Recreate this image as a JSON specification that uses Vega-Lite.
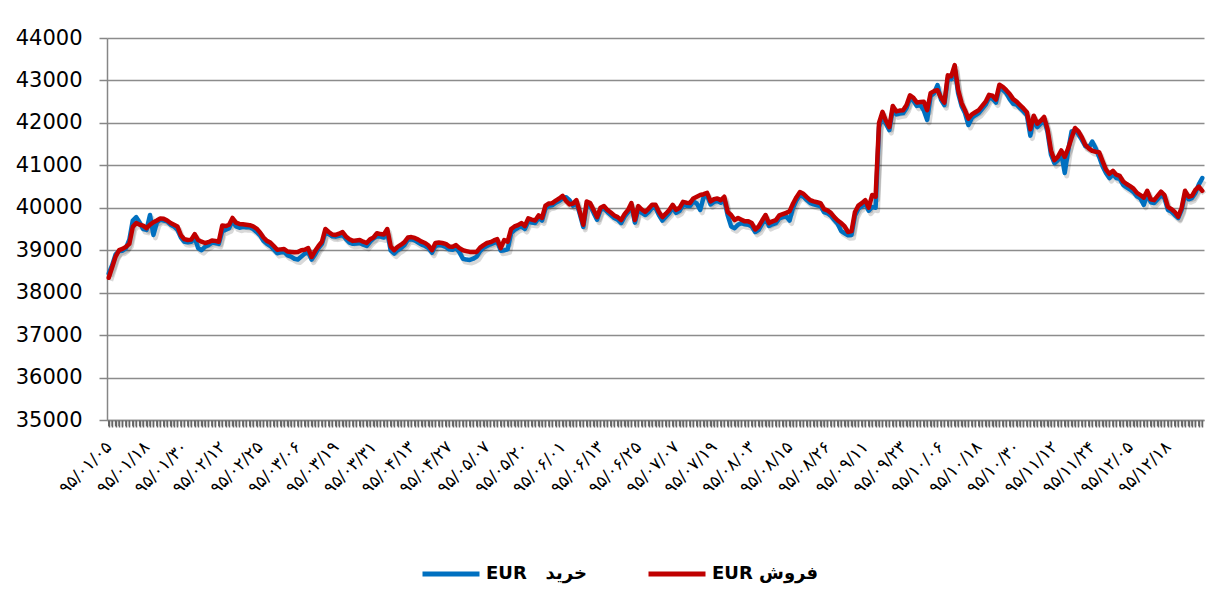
{
"$schema":"https://vega.github.io/schema/vega-lite/v6.json",
"width":1097,"height":382,
"autosize":"none",
"padding":{"left":107,"top":38,"right":21,"bottom":181},
"background":"white",
"data":{"values":[
{"d":"۹۵/۰۱/۰۵","b":38450,"s":38350},{"d":"1","b":38650,"s":38600},{"d":"2","b":38900,"s":38850},{"d":"3","b":38980,"s":39000},{"d":"4","b":38990,"s":39030},{"d":"5","b":39050,"s":39080},{"d":"6","b":39250,"s":39150},{"d":"7","b":39700,"s":39550},{"d":"8","b":39780,"s":39640},{"d":"9","b":39650,"s":39600},
{"d":"10","b":39500,"s":39580},{"d":"۹۵/۰۱/۱۸","b":39480,"s":39520},{"d":"12","b":39830,"s":39600},{"d":"13","b":39360,"s":39660},{"d":"14","b":39650,"s":39700},{"d":"15","b":39720,"s":39750},{"d":"16","b":39700,"s":39740},{"d":"17","b":39680,"s":39700},{"d":"18","b":39600,"s":39640},{"d":"19","b":39560,"s":39600},
{"d":"20","b":39480,"s":39560},{"d":"21","b":39300,"s":39350},{"d":"۹۵/۰۱/۳۰","b":39200,"s":39260},{"d":"23","b":39190,"s":39240},{"d":"24","b":39200,"s":39250},{"d":"25","b":39300,"s":39380},{"d":"26","b":39050,"s":39240},{"d":"27","b":39000,"s":39200},{"d":"28","b":39080,"s":39170},{"d":"29","b":39120,"s":39190},
{"d":"30","b":39180,"s":39230},{"d":"31","b":39170,"s":39220},{"d":"32","b":39150,"s":39200},{"d":"۹۵/۰۲/۱۲","b":39450,"s":39580},{"d":"34","b":39480,"s":39570},{"d":"35","b":39520,"s":39600},{"d":"36","b":39700,"s":39760},{"d":"37","b":39560,"s":39650},{"d":"38","b":39530,"s":39620},{"d":"39","b":39550,"s":39610},
{"d":"40","b":39540,"s":39600},{"d":"41","b":39540,"s":39590},{"d":"42","b":39500,"s":39560},{"d":"43","b":39430,"s":39510},{"d":"۹۵/۰۲/۲۵","b":39350,"s":39420},{"d":"45","b":39220,"s":39300},{"d":"46","b":39150,"s":39220},{"d":"47","b":39100,"s":39180},{"d":"48","b":39020,"s":39100},{"d":"49","b":38930,"s":39010},
{"d":"50","b":38950,"s":39020},{"d":"51","b":38960,"s":39030},{"d":"52","b":38880,"s":38970},{"d":"53","b":38850,"s":38960},{"d":"54","b":38800,"s":38950},{"d":"۹۵/۰۳/۰۶","b":38780,"s":38960},{"d":"56","b":38850,"s":39000},{"d":"57","b":38920,"s":39010},{"d":"58","b":38950,"s":39050},{"d":"59","b":38780,"s":38840},
{"d":"60","b":38900,"s":38980},{"d":"61","b":39050,"s":39100},{"d":"62","b":39150,"s":39200},{"d":"63","b":39420,"s":39500},{"d":"64","b":39380,"s":39430},{"d":"65","b":39330,"s":39370},{"d":"۹۵/۰۳/۱۹","b":39320,"s":39360},{"d":"67","b":39340,"s":39390},{"d":"68","b":39360,"s":39430},{"d":"69","b":39260,"s":39320},
{"d":"70","b":39180,"s":39260},{"d":"71","b":39150,"s":39220},{"d":"72","b":39160,"s":39230},{"d":"73","b":39170,"s":39240},{"d":"74","b":39130,"s":39200},{"d":"75","b":39100,"s":39170},{"d":"76","b":39200,"s":39260},{"d":"۹۵/۰۳/۳۱","b":39280,"s":39300},{"d":"78","b":39330,"s":39400},{"d":"79","b":39320,"s":39380},
{"d":"80","b":39300,"s":39370},{"d":"81","b":39420,"s":39500},{"d":"82","b":38990,"s":39090},{"d":"83","b":38920,"s":39000},{"d":"84","b":39000,"s":39080},{"d":"85","b":39050,"s":39130},{"d":"86","b":39120,"s":39190},{"d":"87","b":39250,"s":39300},{"d":"۹۵/۰۴/۱۳","b":39260,"s":39310},{"d":"89","b":39230,"s":39290},
{"d":"90","b":39180,"s":39250},{"d":"91","b":39130,"s":39200},{"d":"92","b":39100,"s":39170},{"d":"93","b":39050,"s":39110},{"d":"94","b":38940,"s":39000},{"d":"95","b":39100,"s":39170},{"d":"96","b":39120,"s":39180},{"d":"97","b":39110,"s":39170},{"d":"98","b":39080,"s":39150},{"d":"۹۵/۰۴/۲۷","b":39020,"s":39090},
{"d":"100","b":39010,"s":39080},{"d":"101","b":39050,"s":39120},{"d":"102","b":38950,"s":39050},{"d":"103","b":38800,"s":39000},{"d":"104","b":38780,"s":38980},{"d":"105","b":38770,"s":38960},{"d":"106","b":38800,"s":38960},{"d":"107","b":38850,"s":38960},{"d":"108","b":38980,"s":39060},{"d":"109","b":39060,"s":39120},
{"d":"۹۵/۰۵/۰۷","b":39100,"s":39170},{"d":"111","b":39140,"s":39190},{"d":"112","b":39170,"s":39230},{"d":"113","b":39200,"s":39260},{"d":"114","b":38990,"s":39050},{"d":"115","b":39000,"s":39240},{"d":"116","b":39020,"s":39200},{"d":"117","b":39400,"s":39500},{"d":"118","b":39480,"s":39560},{"d":"119","b":39530,"s":39590},
{"d":"120","b":39560,"s":39640},{"d":"۹۵/۰۵/۲۰","b":39500,"s":39570},{"d":"122","b":39680,"s":39750},{"d":"123","b":39650,"s":39720},{"d":"124","b":39640,"s":39700},{"d":"125","b":39760,"s":39820},{"d":"126","b":39700,"s":39760},{"d":"127","b":39980,"s":40050},{"d":"128","b":40050,"s":40100},{"d":"129","b":40060,"s":40110},
{"d":"130","b":40120,"s":40170},{"d":"131","b":40160,"s":40220},{"d":"۹۵/۰۶/۰۱","b":40220,"s":40280},{"d":"133","b":40250,"s":40160},{"d":"134","b":40180,"s":40080},{"d":"135","b":40050,"s":40100},{"d":"136","b":40120,"s":40180},{"d":"137","b":39850,"s":39900},{"d":"138","b":39550,"s":39600},{"d":"139","b":40080,"s":40150},
{"d":"140","b":40050,"s":40110},{"d":"141","b":39880,"s":39950},{"d":"142","b":39720,"s":39780},{"d":"۹۵/۰۶/۱۳","b":39950,"s":40000},{"d":"144","b":39980,"s":40040},{"d":"145","b":39900,"s":39950},{"d":"146","b":39830,"s":39890},{"d":"147","b":39760,"s":39820},{"d":"148","b":39720,"s":39780},{"d":"149","b":39640,"s":39710},
{"d":"150","b":39790,"s":39850},{"d":"151","b":39890,"s":39950},{"d":"152","b":40050,"s":40110},{"d":"153","b":39650,"s":39710},{"d":"۹۵/۰۶/۲۵","b":39960,"s":40040},{"d":"155","b":39880,"s":39960},{"d":"156","b":39830,"s":39900},{"d":"157","b":39900,"s":39980},{"d":"158","b":40000,"s":40070},{"d":"159","b":40000,"s":40070},
{"d":"160","b":39830,"s":39900},{"d":"161","b":39700,"s":39780},{"d":"162","b":39790,"s":39860},{"d":"163","b":39880,"s":39950},{"d":"164","b":40000,"s":40070},{"d":"۹۵/۰۷/۰۷","b":39880,"s":39950},{"d":"166","b":39930,"s":40000},{"d":"167","b":40070,"s":40140},{"d":"168","b":40050,"s":40120},{"d":"169","b":40040,"s":40110},
{"d":"170","b":40150,"s":40220},{"d":"171","b":40100,"s":40260},{"d":"172","b":39950,"s":40300},{"d":"173","b":40250,"s":40320},{"d":"174","b":40290,"s":40350},{"d":"175","b":40080,"s":40150},{"d":"۹۵/۰۷/۱۹","b":40140,"s":40200},{"d":"177","b":40160,"s":40220},{"d":"178","b":40120,"s":40180},{"d":"179","b":40190,"s":40260},
{"d":"180","b":39820,"s":39900},{"d":"181","b":39560,"s":39830},{"d":"182","b":39520,"s":39710},{"d":"183","b":39600,"s":39760},{"d":"184","b":39640,"s":39720},{"d":"185","b":39610,"s":39680},{"d":"186","b":39600,"s":39680},{"d":"۹۵/۰۸/۰۳","b":39560,"s":39640},{"d":"188","b":39430,"s":39490},{"d":"189","b":39480,"s":39560},
{"d":"190","b":39620,"s":39700},{"d":"191","b":39750,"s":39830},{"d":"192","b":39570,"s":39640},{"d":"193","b":39610,"s":39680},{"d":"194","b":39640,"s":39710},{"d":"195","b":39750,"s":39820},{"d":"196","b":39780,"s":39850},{"d":"197","b":39800,"s":39880},{"d":"۹۵/۰۸/۱۵","b":39700,"s":39920},{"d":"199","b":40000,"s":40100},
{"d":"200","b":40180,"s":40250},{"d":"201","b":40300,"s":40370},{"d":"202","b":40260,"s":40330},{"d":"203","b":40180,"s":40250},{"d":"204","b":40110,"s":40180},{"d":"205","b":40080,"s":40150},{"d":"206","b":40060,"s":40130},{"d":"207","b":40040,"s":40110},{"d":"208","b":39900,"s":39970},{"d":"۹۵/۰۸/۲۶","b":39870,"s":39940},
{"d":"210","b":39810,"s":39880},{"d":"211","b":39710,"s":39780},{"d":"212","b":39620,"s":39700},{"d":"213","b":39450,"s":39640},{"d":"214","b":39400,"s":39560},{"d":"215","b":39350,"s":39430},{"d":"216","b":39360,"s":39450},{"d":"217","b":39820,"s":39900},{"d":"218","b":39980,"s":40050},{"d":"219","b":40040,"s":40110},
{"d":"۹۵/۰۹/۱۱","b":40100,"s":40180},{"d":"221","b":39930,"s":40000},{"d":"222","b":40020,"s":40300},{"d":"223","b":40000,"s":40260},{"d":"224","b":41900,"s":42000},{"d":"225","b":42180,"s":42260},{"d":"226","b":41980,"s":42050},{"d":"227","b":41830,"s":41900},{"d":"228","b":42330,"s":42400},{"d":"229","b":42200,"s":42270},
{"d":"230","b":42220,"s":42290},{"d":"۹۵/۰۹/۲۳","b":42230,"s":42300},{"d":"232","b":42350,"s":42420},{"d":"233","b":42580,"s":42650},{"d":"234","b":42520,"s":42590},{"d":"235","b":42400,"s":42480},{"d":"236","b":42420,"s":42490},{"d":"237","b":42300,"s":42500},{"d":"238","b":42070,"s":42300},{"d":"239","b":42630,"s":42700},
{"d":"240","b":42700,"s":42750},{"d":"241","b":42890,"s":42770},{"d":"۹۵/۱۰/۰۶","b":42550,"s":42600},{"d":"243","b":42420,"s":42480},{"d":"244","b":43050,"s":43120},{"d":"245","b":43030,"s":43100},{"d":"246","b":43280,"s":43360},{"d":"247","b":42700,"s":42780},{"d":"248","b":42400,"s":42470},{"d":"249","b":42230,"s":42300},
{"d":"250","b":41950,"s":42100},{"d":"251","b":42120,"s":42200},{"d":"252","b":42180,"s":42250},{"d":"۹۵/۱۰/۱۸","b":42230,"s":42300},{"d":"254","b":42330,"s":42400},{"d":"255","b":42430,"s":42500},{"d":"256","b":42590,"s":42660},{"d":"257","b":42570,"s":42640},{"d":"258","b":42480,"s":42550},{"d":"259","b":42830,"s":42900},
{"d":"260","b":42780,"s":42850},{"d":"261","b":42700,"s":42770},{"d":"262","b":42560,"s":42680},{"d":"263","b":42450,"s":42560},{"d":"۹۵/۱۰/۳۰","b":42430,"s":42500},{"d":"265","b":42350,"s":42420},{"d":"266","b":42270,"s":42340},{"d":"267","b":42180,"s":42250},{"d":"268","b":41700,"s":41850},{"d":"269","b":42100,"s":42170},
{"d":"270","b":41900,"s":41980},{"d":"271","b":41980,"s":42050},{"d":"272","b":42080,"s":42140},{"d":"273","b":41780,"s":41850},{"d":"274","b":41250,"s":41350},{"d":"۹۵/۱۱/۱۲","b":41050,"s":41120},{"d":"276","b":41120,"s":41200},{"d":"277","b":41280,"s":41350},{"d":"278","b":40820,"s":41200},{"d":"279","b":41350,"s":41400},
{"d":"280","b":41800,"s":41650},{"d":"281","b":41820,"s":41880},{"d":"282","b":41730,"s":41800},{"d":"283","b":41600,"s":41660},{"d":"284","b":41450,"s":41480},{"d":"285","b":41420,"s":41400},{"d":"۹۵/۱۱/۲۴","b":41560,"s":41340},{"d":"287","b":41400,"s":41320},{"d":"288","b":41200,"s":41310},{"d":"289","b":40980,"s":41100},
{"d":"290","b":40820,"s":40900},{"d":"291","b":40700,"s":40800},{"d":"292","b":40800,"s":40870},{"d":"293","b":40700,"s":40780},{"d":"294","b":40680,"s":40750},{"d":"295","b":40540,"s":40620},{"d":"296","b":40480,"s":40560},{"d":"۹۵/۱۲/۰۵","b":40430,"s":40510},{"d":"298","b":40370,"s":40450},{"d":"299","b":40270,"s":40350},
{"d":"300","b":40220,"s":40300},{"d":"301","b":40070,"s":40240},{"d":"302","b":40330,"s":40400},{"d":"303","b":40130,"s":40200},{"d":"304","b":40110,"s":40180},{"d":"305","b":40200,"s":40280},{"d":"306","b":40300,"s":40380},{"d":"307","b":40230,"s":40300},{"d":"۹۵/۱۲/۱۸","b":39950,"s":40020},{"d":"309","b":39910,"s":39970},
{"d":"310","b":39830,"s":39900},{"d":"311","b":39760,"s":39790},{"d":"312","b":39950,"s":40000},{"d":"313","b":40330,"s":40400},{"d":"314","b":40200,"s":40260},{"d":"315","b":40230,"s":40280},{"d":"316","b":40350,"s":40420},{"d":"317","b":40550,"s":40500},{"d":"318","b":40700,"s":40400}
]},
"encoding":{
"x":{"field":"d","type":"ordinal","sort":null,"scale":{"type":"point","padding":0.5},
"axis":{"title":null,"ticks":true,"labelAngle":-45,"labelAlign":"right","labelBaseline":"middle","labelFont":"DejaVu Sans","labelFontSize":17,"labelColor":"#000","labelPadding":17,"labelOverlap":false,"labelBound":false,"labelExpr":"indexof(datum.label,'/')>=0 ? datum.label : ''","tickSize":7,"tickColor":"#666666","tickWidth":1.5,"domainColor":"#868686","domainWidth":1.5,"grid":false}}
},
"layer":[
{"mark":{"type":"line","color":"#000","opacity":0.15,"strokeWidth":5,"xOffset":2,"yOffset":3,"strokeJoin":"round"},
 "encoding":{"y":{"field":"b","type":"quantitative","title":null,"scale":{"domain":[35000,44000],"nice":false,"zero":false},"axis":{"values":[35000,36000,37000,38000,39000,40000,41000,42000,43000,44000],"format":"d"}}}},
{"mark":{"type":"line","color":"#000","opacity":0.15,"strokeWidth":5,"xOffset":2,"yOffset":3,"strokeJoin":"round"},
 "encoding":{"y":{"field":"s","type":"quantitative","title":null,"scale":{"domain":[35000,44000],"nice":false,"zero":false},"axis":{"values":[35000,36000,37000,38000,39000,40000,41000,42000,43000,44000],"format":"d"}}}},
{"mark":{"type":"line","strokeWidth":4.5,"strokeJoin":"round","strokeCap":"round"},
 "encoding":{"y":{"field":"b","type":"quantitative","title":null,"scale":{"domain":[35000,44000],"nice":false,"zero":false},"axis":{"values":[35000,36000,37000,38000,39000,40000,41000,42000,43000,44000],"format":"d"}},
 "color":{"datum":"EUR\u00a0\u00a0\u00a0خرید","scale":{"domain":["EUR\u00a0\u00a0\u00a0خرید","EUR فروش"],"range":["#0070C0","#C00000"]},
  "legend":{"title":null,"orient":"none","legendX":313,"legendY":505,"direction":"horizontal","columns":2,"columnPadding":51,"padding":0,"symbolType":"stroke","symbolSize":3249,"symbolStrokeWidth":5,"labelFont":"DejaVu Sans","labelFontWeight":"bold","labelFontSize":18,"labelColor":"#000","labelOffset":4,"labelLimit":300}}}},
{"mark":{"type":"line","strokeWidth":4.5,"strokeJoin":"round","strokeCap":"round"},
 "encoding":{"y":{"field":"s","type":"quantitative","title":null,"scale":{"domain":[35000,44000],"nice":false,"zero":false},"axis":{"values":[35000,36000,37000,38000,39000,40000,41000,42000,43000,44000],"format":"d"}},
 "color":{"datum":"EUR فروش"}}},
{"mark":{"type":"rule","color":"#666666","strokeWidth":1.5,"clip":false},
 "encoding":{"y":{"datum":34990,"type":"quantitative","scale":{"domain":[35000,44000],"nice":false,"zero":false},"axis":{"values":[35000,36000,37000,38000,39000,40000,41000,42000,43000,44000],"format":"d"}},"y2":{"datum":34850}}}
],
"config":{
"view":{"stroke":null},
"font":"DejaVu Sans",
"axisY":{"grid":true,"gridColor":"#8c8c8c","gridWidth":1.5,"domainColor":"#868686","domainWidth":1.5,"tickColor":"#868686","tickWidth":1.5,"tickSize":8,"labelFont":"DejaVu Sans","labelFontSize":21,"labelColor":"#000","labelPadding":17}
}
}
